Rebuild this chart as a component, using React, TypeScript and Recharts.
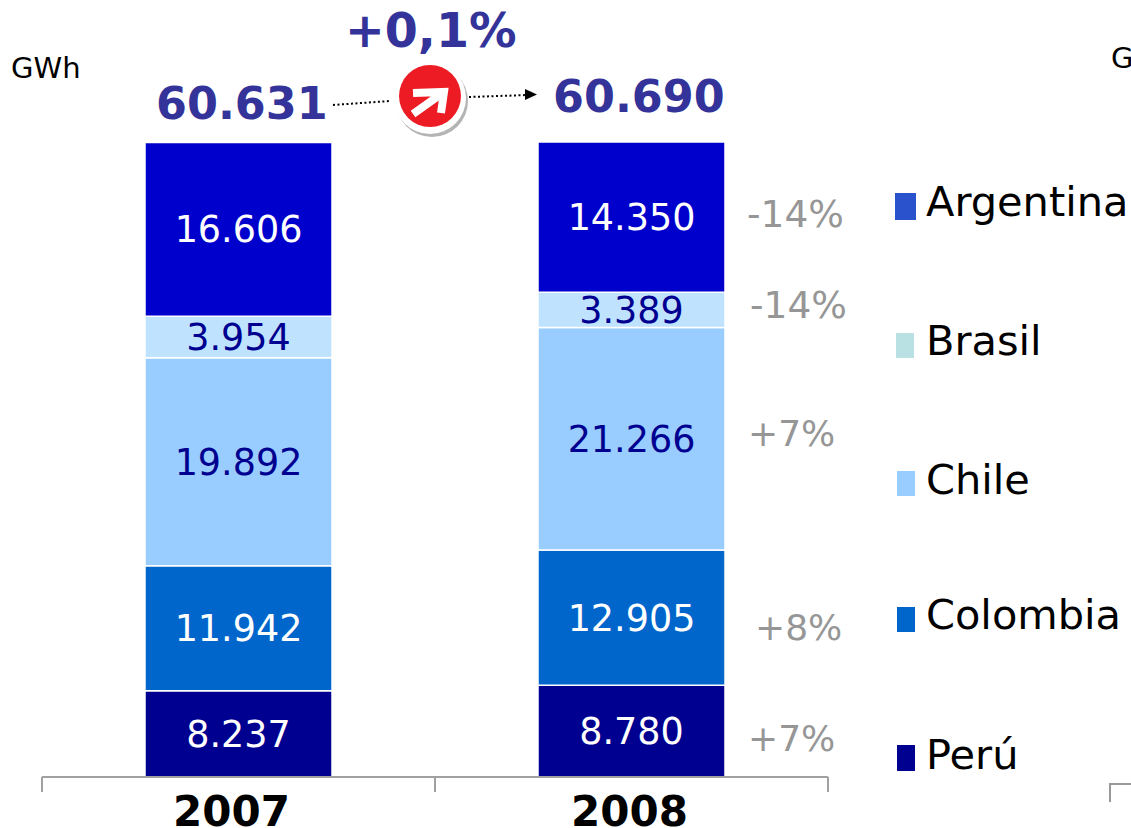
import React from "react";
import { BarChart, Bar, XAxis, YAxis, LabelList } from "recharts";

const years = ["2007", "2008"];
const peru = [8237, 8780];
const colombia = [11942, 12905];
const chile = [19892, 21266];
const brasil = [3954, 3389];
const argentina = [16606, 14350];
const totals = ["60.631", "60.690"];
const changes = ["-14%", "-14%", "+7%", "+8%", "+7%"];
const growth = "+0,1%";

const data = years.map((year, i) => ({
  year,
  Perú: peru[i],
  Colombia: colombia[i],
  Chile: chile[i],
  Brasil: brasil[i],
  Argentina: argentina[i],
}));

const FONT = "'DejaVu Sans', Verdana, sans-serif";
const BAND = 393;

const series = [
  { key: "Perú", fill: "#000090", text: "#ffffff" },
  { key: "Colombia", fill: "#0066cc", text: "#ffffff" },
  { key: "Chile", fill: "#99ccff", text: "#000090" },
  { key: "Brasil", fill: "#bfe3ff", text: "#000090" },
  { key: "Argentina", fill: "#0000cc", text: "#ffffff" },
];

const legendRows = [
  { name: "Argentina", color: "#2a52cc", x: 895, w: 21, top: 193, h: 27, y: 202 },
  { name: "Brasil", color: "#b9e0e3", x: 896, w: 18, top: 333, h: 25, y: 341 },
  { name: "Chile", color: "#99ccff", x: 897, w: 18, top: 471, h: 25, y: 480 },
  { name: "Colombia", color: "#0066cc", x: 897, w: 18, top: 607, h: 25, y: 615 },
  { name: "Perú", color: "#000090", x: 897, w: 18, top: 745, h: 26, y: 755 },
];

const changePos = [
  [747, 214, 37.5],
  [750, 305, 37.5],
  [748, 433, 36],
  [755, 627, 36],
  [748, 738, 36],
];

const yearShift = [-7, -2];

const fmt = (v: any) => Number(v).toLocaleString("de-DE");

const YearTick = ({ x, payload, index }: any) => (
  <g>
    <line x1={x - BAND / 2} x2={x - BAND / 2} y1={777} y2={792} stroke="#a0a0a0" strokeWidth={2} />
    {index === years.length - 1 && (
      <line x1={x + BAND / 2} x2={x + BAND / 2} y1={777} y2={792} stroke="#a0a0a0" strokeWidth={2} />
    )}
    <text x={x + yearShift[index]} y={826} textAnchor="middle" fontFamily={FONT} fontSize={42} fontWeight="bold" fill="#000">
      {payload.value}
    </text>
  </g>
);

const SideLegend = () => (
  <>
    {legendRows.map((r) => (
      <div key={r.name}>
        <div
          style={{
            position: "absolute",
            left: r.x,
            top: r.top,
            width: r.w,
            height: r.h,
            background: r.color,
          }}
        />
        <div
          style={{
            position: "absolute",
            left: 926,
            top: r.y - 25,
            lineHeight: "50px",
            fontFamily: FONT,
            fontSize: 41.5,
            color: "#000",
            whiteSpace: "nowrap",
          }}
        >
          {r.name}
        </div>
      </div>
    ))}
  </>
);

export default function App() {
  return (
    <div style={{ position: "absolute", left: 0, top: 0, width: 1131, height: 828, overflow: "hidden", background: "#fff" }}>
      <BarChart
        width={1131}
        height={828}
        data={data}
        margin={{ top: 142, right: 303, bottom: 0, left: 42 }}
        barCategoryGap={0}
      >
        <XAxis
          dataKey="year"
          interval={0}
          axisLine={{ stroke: "#a0a0a0", strokeWidth: 2 }}
          tickLine={false}
          tick={<YearTick />}
          height={51}
        />
        <YAxis hide domain={[0, 60690]} />
        {series.map((s) => (
          <Bar key={s.key} dataKey={s.key} stackId="a" barSize={187} fill={s.fill} stroke="#fff" strokeWidth={1.5} isAnimationActive={false}>
            <LabelList dataKey={s.key} position="center" formatter={fmt} fill={s.text} fontFamily={FONT} fontSize={36.5} />
          </Bar>
        ))}
      </BarChart>

      <SideLegend />

      <svg width={1131} height={828} style={{ position: "absolute", left: 0, top: 0, pointerEvents: "none" }}>
        <text x={11} y={78} fontFamily={FONT} fontSize={29} fill="#000">GWh</text>
        <text x={1111} y={68} fontFamily={FONT} fontSize={29} fill="#000">GWh</text>
        <text x={156} y={119} fontFamily={FONT} fontSize={44.5} fontWeight="bold" fill="#333399">{totals[0]}</text>
        <text x={553} y={112} fontFamily={FONT} fontSize={44.5} fontWeight="bold" fill="#333399">{totals[1]}</text>
        <text x={345} y={47} fontFamily={FONT} fontSize={47.5} fontWeight="bold" fill="#333399">{growth}</text>

        <line x1={333} y1={105} x2={390} y2={101} stroke="#000" strokeWidth={2} strokeDasharray="2 2.5" />
        <line x1={469} y1={97} x2={528} y2={95} stroke="#000" strokeWidth={2} strokeDasharray="2 2.5" />
        <path d="M525,89 L537,94.5 L525,100 Z" fill="#000" />

        <circle cx={432} cy={101} r={36} fill="#b4b4b4" />
        <circle cx={430} cy={98} r={36} fill="#ffffff" />
        <circle cx={430} cy={96} r={31} fill="#ed1c24" />
        <path d="M413,93 L444,92 L441,113 M444,92 L413,114" stroke="#fff" strokeWidth={8} fill="none" strokeLinejoin="miter" />

        {changes.map((c, i) => (
          <text key={i} x={changePos[i][0] as number} y={(changePos[i][1] as number) + 13} fontFamily={FONT} fontSize={changePos[i][2]} fill="#969696">{c}</text>
        ))}

        <path d="M1110,802 L1110,784 L1131,784" fill="none" stroke="#999" strokeWidth={2} />
      </svg>
    </div>
  );
}
